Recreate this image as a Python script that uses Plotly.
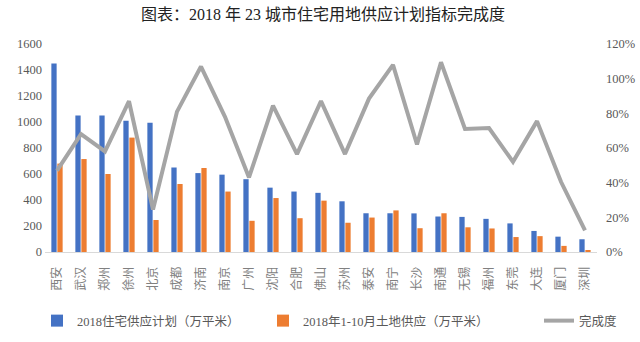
import plotly.graph_objects as go

cities = ["西安", "武汉", "郑州", "徐州", "北京", "成都", "济南", "南京", "广州", "沈阳", "合肥", "佛山",
          "苏州", "泰安", "南宁", "长沙", "南通", "无锡", "福州", "东莞", "大连", "厦门", "深圳"]
plan = [1450, 1050, 1050, 1010, 995, 650, 607, 595, 560, 495, 465, 455,
        390, 298, 298, 297, 273, 270, 255, 220, 162, 118, 98]
supply = [680, 715, 600, 880, 246, 523, 646, 465, 240, 415, 260, 395,
          225, 265, 320, 183, 298, 190, 181, 115, 122, 47, 12]
rate = [0.47, 0.68, 0.58, 0.87, 0.245, 0.81, 1.07, 0.78, 0.43, 0.845, 0.565, 0.87,
        0.565, 0.885, 1.08, 0.62, 1.095, 0.71, 0.715, 0.52, 0.755, 0.405, 0.125]

left_ticks = [0, 200, 400, 600, 800, 1000, 1200, 1400, 1600]
right_ticks = [0, 0.2, 0.4, 0.6, 0.8, 1.0, 1.2]

FONT = "Liberation Serif, Noto Sans CJK SC"
GRAY = "#595959"

fig = go.Figure()
fig.add_trace(go.Bar(x=cities, y=plan, name="2018住宅供应计划（万平米）",
                     marker_color="#4472C4", marker_line_width=0, legend="legend"))
fig.add_trace(go.Bar(x=cities, y=supply, name="2018年1-10月土地供应（万平米）",
                     marker_color="#ED7D31", marker_line_width=0, legend="legend2"))
fig.add_trace(go.Scatter(x=cities, y=rate, name="完成度", yaxis="y2", mode="lines",
                         line=dict(color="#A5A5A5", width=4), legend="legend3"))

W, H = 640, 342
leg_common = dict(orientation="h", xref="container", yref="container",
                  y=1 - 321 / H, yanchor="middle", xanchor="left",
                  font=dict(family=FONT, size=12.5, color=GRAY), bgcolor="rgba(0,0,0,0)")

fig.update_layout(
    width=W, height=H,
    margin=dict(l=45, r=43, t=44, b=90, autoexpand=False),
    paper_bgcolor="white", plot_bgcolor="white",
    barmode="group", bargap=0.5, bargroupgap=0.12,
    font=dict(family=FONT, size=12, color=GRAY),
    title=dict(text="图表：2018 年 23 城市住宅用地供应计划指标完成度",
               x=323 / W, xanchor="center", xref="container",
               y=1 - 14.5 / H, yanchor="middle", yref="container",
               font=dict(family=FONT, size=16, color="#222222")),
    xaxis=dict(tickangle=-90, showline=True, linecolor="#D9D9D9", linewidth=1,
               ticks="", showgrid=False, automargin=False, ticklabelstandoff=9,
               tickfont=dict(size=12, color="#808080")),
    yaxis=dict(range=[0, 1600], tickvals=left_ticks, showgrid=False, zeroline=False,
               showline=False, ticks="", automargin=False, ticklabelstandoff=2,
               tickfont=dict(size=12.5, color=GRAY)),
    yaxis2=dict(range=[0, 1.2], tickvals=right_ticks, tickformat=".0%", overlaying="y",
                side="right", showgrid=False, zeroline=False, showline=False, ticks="",
                automargin=False, ticklabelstandoff=8,
                tickfont=dict(size=12.5, color=GRAY)),
    legend=dict(x=37 / W, **leg_common),
    legend2=dict(x=263 / W, **leg_common),
    legend3=dict(x=539 / W, **leg_common),
    showlegend=True,
)

fig.write_html("out.html")
